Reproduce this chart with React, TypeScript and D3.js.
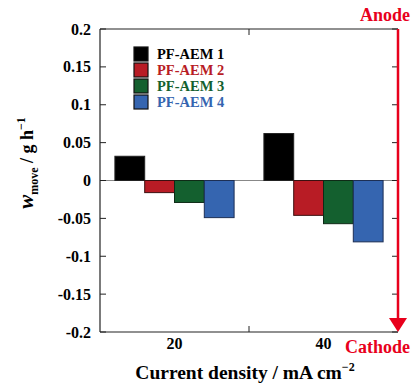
import React from 'react';
import * as d3 from 'd3';

const categories = ['20', '40'];
const seriesNames = ['PF-AEM 1', 'PF-AEM 2', 'PF-AEM 3', 'PF-AEM 4'];
const seriesColors = ['#000000', '#b81c25', '#14602f', '#3565b0'];
const seriesStroke = ['#222222', '#3a1010', '#0e2a16', '#1d2f55'];
const valuesAt20 = [0.032, -0.016, -0.029, -0.049];
const valuesAt40 = [0.062, -0.046, -0.057, -0.081];
const yTicks = [0.2, 0.15, 0.1, 0.05, 0, -0.05, -0.1, -0.15, -0.2];

const font = '"Liberation Serif", "Times New Roman", serif';

export default function App() {
  const W = 412, H = 385;
  const margin = {top: 29, right: 14, bottom: 53, left: 100};
  const x0 = d3.scaleBand<string>().domain(categories).range([margin.left, W - margin.right]);
  const x1 = d3.scaleBand<string>().domain(seriesNames).range([0, x0.bandwidth()]).paddingOuter(0.5);
  const y = d3.scaleLinear().domain([-0.2, 0.2]).range([H - margin.bottom, margin.top]);

  const rows = [valuesAt20, valuesAt40];
  const left = margin.left, right = W - margin.right;
  const top = y(0.2), bottom = y(-0.2);

  return (
    <svg width={W} height={H} style={{position: 'absolute', left: 0, top: 0}} fontFamily={font}>
      <rect width={W} height={H} fill="#fff" />
      {/* zero line */}
      <line x1={left} x2={right} y1={y(0)} y2={y(0)} stroke="#888" strokeWidth={1.2} />
      {/* bars */}
      {categories.map((c, ci) => (
        <g key={c} transform={`translate(${x0(c)},0)`}>
          {seriesNames.map((s, si) => {
            const v = rows[ci][si];
            return (
              <rect key={s} x={x1(s)} width={x1.bandwidth()}
                y={y(Math.max(0, v))} height={Math.abs(y(v) - y(0))}
                fill={seriesColors[si]} stroke={seriesStroke[si]} strokeWidth={1} />
            );
          })}
        </g>
      ))}
      {/* frame */}
      <line x1={left} x2={left} y1={top} y2={bottom} stroke="#222" strokeWidth={1.2} />
      <line x1={left} x2={right} y1={top} y2={top} stroke="#222" strokeWidth={1.2} />
      <line x1={left} x2={right} y1={bottom} y2={bottom} stroke="#222" strokeWidth={1.2} />
      {yTicks.map(t => (
        <g key={t}>
          <line x1={left} x2={left + 6} y1={y(t)} y2={y(t)} stroke="#222" />
          <line x1={right - 6} x2={right} y1={y(t)} y2={y(t)} stroke="#222" />
          <text x={left - 9} y={y(t)} dy="0.35em" textAnchor="end" fontSize={16} fontWeight="bold">{String(t)}</text>
        </g>
      ))}
      {/* category separators */}
      <line x1={x0('40')} x2={x0('40')} y1={bottom} y2={bottom - 6} stroke="#222" />
      <line x1={x0('40')} x2={x0('40')} y1={top} y2={top + 6} stroke="#222" />
      {categories.map(c => (
        <text key={c} x={(x0(c) as number) + x0.bandwidth() / 2} y={bottom + 17} textAnchor="middle"
          fontSize={16} fontWeight="bold">{c}</text>
      ))}
      {/* right red arrow axis */}
      <line x1={right} x2={right} y1={top} y2={bottom - 12} stroke="#e8001c" strokeWidth={2.5} />
      <path d={`M${right - 9},${bottom - 14} L${right + 9},${bottom - 14} L${right},${bottom} Z`} fill="#e8001c" />
      <text x={W - 2} y={21} textAnchor="end" fontSize={18} fontWeight="bold" fill="#e8001c">Anode</text>
      <text x={W - 2} y={353} textAnchor="end" fontSize={18} fontWeight="bold" fill="#e8001c">Cathode</text>
      {/* legend */}
      {seriesNames.map((s, i) => (
        <g key={s} transform={`translate(134,${47 + i * 16})`}>
          <rect width={14} height={14} fill={seriesColors[i]} stroke="#111" strokeWidth={1.2} />
          <text x={23} y={12} fontSize={14.5} fontWeight="bold" fill={seriesColors[i]}>{s}</text>
        </g>
      ))}
      {/* axis titles */}
      <text x={245} y={379} textAnchor="middle" fontSize={19.5} fontWeight="bold">
        Current density / mA cm<tspan dy={-8} fontSize={12}>−2</tspan>
      </text>
      <text transform="translate(33,163) rotate(-90)" textAnchor="middle" fontSize={18} fontWeight="bold">
        <tspan fontStyle="italic" fontSize={21}>w</tspan>
        <tspan dy={5} fontSize={12}>move</tspan>
        <tspan dy={-5}> / g h</tspan>
        <tspan dy={-8} fontSize={12}>−1</tspan>
      </text>
    </svg>
  );
}
